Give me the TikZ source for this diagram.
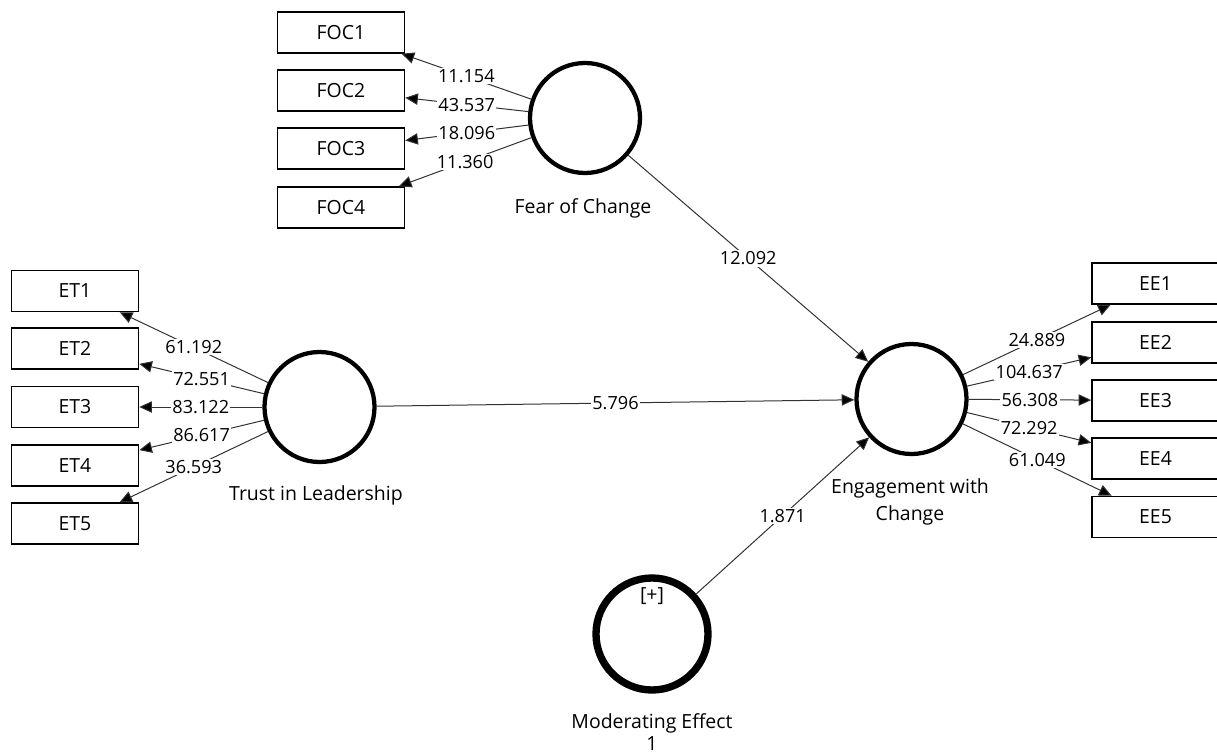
\documentclass[tikz,border=0pt]{standalone}
\usepackage{fontspec}
\setmainfont{Open Sans}
\usetikzlibrary{arrows.meta}
\newcommand{\numfont}{\fontsize{13.6}{16}\selectfont}
\newcommand{\wordfont}{\fontsize{14.6}{20}\selectfont}
\begin{document}
\begin{tikzpicture}[x=0.75pt,y=-0.75pt,
  ind/.style={draw, line width=1.1pt, minimum width=95.25pt, minimum height=30.75pt, inner sep=0pt, fill=white, font=\wordfont, text=black},
  lat/.style={circle, draw, line width=3.2pt, minimum size=82.5pt, inner sep=0pt, fill=white},
  modlat/.style={circle, draw, line width=5.5pt, minimum size=84pt, inner sep=0pt, fill=white},
  conn/.style={draw=black!80, line width=0.75pt, -{Triangle[length=9.5pt,width=8.5pt,fill=black]}},
  val/.style={fill=white, inner sep=1pt, font=\numfont, text=black},
  txt/.style={font=\wordfont, text=black, inner sep=0pt, align=center}
]
\useasboundingbox (0,0) rectangle (1217,756);
\begin{scope}
\clip (0,0) rectangle (1217,756);
% latent variables
\node[lat] (foc) at (585,118) {};
\node[lat] (tl) at (319.5,407) {};
\node[lat] (eng) at (911.5,399) {};
\node[modlat] (me) at (652,634) {};
% indicators
\node[ind] (foc1) at (341,32.5) {FOC1};
\node[ind] (foc2) at (341,90.5) {FOC2};
\node[ind] (foc3) at (341,148.5) {FOC3};
\node[ind] (foc4) at (341,207.5) {FOC4};
\node[ind] (et1) at (75,291) {ET1};
\node[ind] (et2) at (75,348.5) {ET2};
\node[ind] (et3) at (75,407) {ET3};
\node[ind] (et4) at (75,465.5) {ET4};
\node[ind] (et5) at (75,523.5) {ET5};
\node[ind] (ee1) at (1155.5,283.5) {EE1};
\node[ind] (ee2) at (1155.5,342.5) {EE2};
\node[ind] (ee3) at (1155.5,400.5) {EE3};
\node[ind] (ee4) at (1155.5,458.5) {EE4};
\node[ind] (ee5) at (1155.5,517) {EE5};
% connectors
\foreach \a/\b in {foc/foc1,foc/foc2,foc/foc3,foc/foc4,tl/et1,tl/et2,tl/et3,tl/et4,tl/et5,eng/ee1,eng/ee2,eng/ee3,eng/ee4,eng/ee5,foc/eng,tl/eng,me/eng}
  \draw[conn] (\a) -- (\b);
% values
\foreach \a/\b/\v in {foc/foc1/11.154,foc/foc2/43.537,foc/foc3/18.096,foc/foc4/11.360,tl/et1/61.192,tl/et2/72.551,tl/et3/83.122,tl/et4/86.617,tl/et5/36.593,eng/ee1/24.889,eng/ee2/104.637,eng/ee3/56.308,eng/ee4/72.292,eng/ee5/61.049,foc/eng/12.092,tl/eng/5.796,me/eng/1.871}
  \path (\a) -- node[val]{\v} (\b);
% latent labels
\node[txt] (focl) at (583,208) {Fear of Change};
\node[txt] (tll) at (316,495) {Trust in Leadership};
\node[txt] (engl) at (910,502) {Engagement with\\Change};
\node[txt] (mel) at (652,732) {Moderating Effect\\[-3pt]1};
\node[txt] (plus) at (652,596) {[+]};
\end{scope}
\end{tikzpicture}
\end{document}
